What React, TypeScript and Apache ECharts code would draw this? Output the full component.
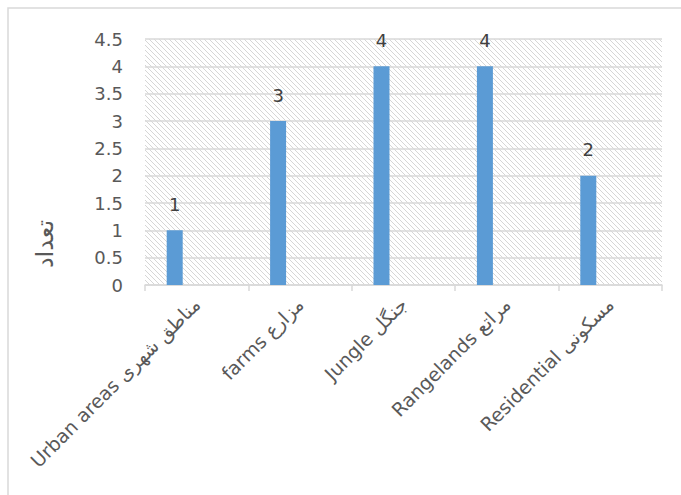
import React, { useEffect, useRef } from "react";
import * as echarts from "echarts";

const categories = [
  "Urban areas مناطق شهری",
  "farms مزارع",
  "Jungle جنگل",
  "Rangelands مراتع",
  "Residential مسکونی",
];
const counts = [1, 3, 4, 4, 2];
const yAxisTitle = "تعداد";
const yMin = 0;
const yMax = 4.5;
const yStep = 0.5;

function makeHatch(): HTMLCanvasElement {
  const c = document.createElement("canvas");
  const s = 5;
  c.width = s;
  c.height = s;
  const ctx = c.getContext("2d")!;
  ctx.fillStyle = "#ffffff";
  ctx.fillRect(0, 0, s, s);
  ctx.strokeStyle = "#d6d6d6";
  ctx.lineWidth = 1;
  ctx.beginPath();
  ctx.moveTo(-1, -1);
  ctx.lineTo(s + 1, s + 1);
  ctx.moveTo(-1, s - 1);
  ctx.lineTo(1, s + 1);
  ctx.moveTo(s - 1, -1);
  ctx.lineTo(s + 1, 1);
  ctx.stroke();
  return c;
}

export default function App() {
  const ref = useRef<HTMLDivElement>(null);
  useEffect(() => {
    if (!ref.current) return;
    const chart = echarts.init(ref.current, undefined, { renderer: "svg" });
    const font = "DejaVu Sans";
    chart.setOption({
      animation: false,
      backgroundColor: "#ffffff",
      grid: {
        left: 145,
        right: 19,
        top: 39,
        bottom: 210,
        show: true,
        borderWidth: 0,
        backgroundColor: { image: makeHatch(), repeat: "repeat" },
      },
      xAxis: {
        type: "category",
        data: categories,
        axisLine: { lineStyle: { color: "#d9d9d9", width: 1.5 } },
        axisTick: { show: true, length: 6, lineStyle: { color: "#d9d9d9", width: 1.5 } },
        axisLabel: {
          rotate: 45,
          interval: 0,
          margin: 16,
          color: "#595959",
          fontFamily: font,
          fontSize: 19,
        },
      },
      yAxis: {
        type: "value",
        min: yMin,
        max: yMax,
        interval: yStep,
        axisLine: { show: false },
        axisTick: { show: false },
        splitLine: { lineStyle: { color: "#d9d9d9", width: 1.5 } },
        axisLabel: {
          margin: 22,
          color: "#595959",
          fontFamily: font,
          fontSize: 18,
          formatter: (v: number) => String(v),
        },
      },
      series: [
        {
          type: "bar",
          data: counts,
          barWidth: 16,
          barGap: "175%",
          itemStyle: { color: "#5b9bd5" },
          label: {
            show: true,
            position: "top",
            distance: 17,
            color: "#404040",
            fontFamily: font,
            fontSize: 18,
          },
        },
        {
          type: "bar",
          data: categories.map(() => "-"),
          barWidth: 16,
          barGap: "175%",
        },
      ],
      graphic: [
        {
          type: "rect",
          shape: { x: 8, y: 8, width: 720, height: 600 },
          style: { fill: "none", stroke: "#d9d9d9", lineWidth: 1.5 },
          silent: true,
          z: -1,
        },
        {
          type: "text",
          x: 45,
          y: 244,
          rotation: Math.PI / 2,
          style: {
            text: yAxisTitle,
            fill: "#595959",
            font: `24px "${font}"`,
            align: "center",
            verticalAlign: "middle",
          },
        },
      ],
    });
    return () => chart.dispose();
  }, []);
  return (
    <div
      ref={ref}
      style={{ position: "fixed", left: 0, top: 0, width: 681, height: 495 }}
    />
  );
}
